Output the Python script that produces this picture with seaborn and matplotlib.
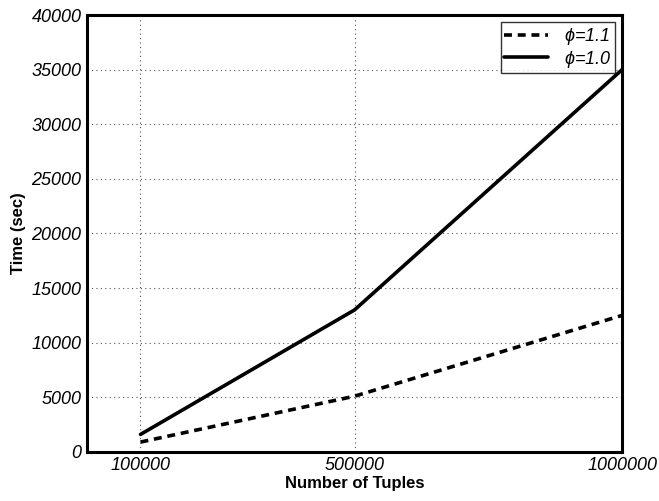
import matplotlib
matplotlib.use("Agg")
import matplotlib.pyplot as plt
import seaborn as sns
import pandas as pd

# Run time versus input size for two skew parameters
tuples = [100000, 500000, 1000000]
time_phi_11 = [900, 5100, 12500]
time_phi_10 = [1600, 13000, 35000]
series_labels = ["\u03d5=1.1", "\u03d5=1.0"]
x_ticks = [100000, 500000, 1000000]
y_ticks = [0, 5000, 10000, 15000, 20000, 25000, 30000, 35000, 40000]

df = pd.DataFrame({
    "tuples": tuples * 2,
    "time": time_phi_11 + time_phi_10,
    "series": [series_labels[0]] * 3 + [series_labels[1]] * 3,
})

sns.set_theme(style="white")
plt.rcParams["font.family"] = ["Liberation Sans", "DejaVu Sans"]
plt.rcParams["text.color"] = "black"
plt.rcParams["axes.labelcolor"] = "black"

fig = plt.figure(figsize=(6.59, 5.01), dpi=100)
ax = fig.add_axes([0.132, 0.098, 0.812, 0.872])

sns.lineplot(data=df, x="tuples", y="time", hue="series", style="series",
             palette=["black", "black"],
             dashes={series_labels[0]: (2.2, 1.6), series_labels[1]: ""},
             linewidth=2.6, ax=ax, legend=True)

ax.set_xlim(0, 1000000)
ax.set_ylim(0, 40000)
ax.set_xticks(x_ticks)
ax.set_yticks(y_ticks)
ax.set_xticklabels([str(v) for v in x_ticks], fontsize=13, style="italic")
ax.set_yticklabels([str(v) for v in y_ticks], fontsize=13, style="italic")
ax.tick_params(direction="in", length=4, width=1.2, pad=4, colors="black")
ax.grid(True, linestyle=(0, (1, 3)), color="#555555", linewidth=0.8)

for s in ax.spines.values():
    s.set_linewidth(2.2)
    s.set_color("black")

ax.set_xlabel("Number of Tuples", fontsize=12, fontweight="bold", labelpad=1,
              color="black")
ax.set_ylabel("Time (sec)", fontsize=12, fontweight="bold", labelpad=4,
              color="black")

leg = ax.legend(loc="upper right", fontsize=13, frameon=True, fancybox=False,
                edgecolor="black", handlelength=2.4, handletextpad=0.9,
                borderpad=0.2, labelspacing=0.1, borderaxespad=0.4)
leg.get_frame().set_linewidth(1.0)
for t, lab in zip(leg.get_texts(), series_labels):
    t.set_text(r"$\mathregular{\phi}$" + lab[1:])
    t.set_fontstyle("italic")
    t.set_color("black")
for line in leg.get_lines():
    line.set_linewidth(2.6)

fig.savefig("out.png", dpi=100, facecolor="white")
